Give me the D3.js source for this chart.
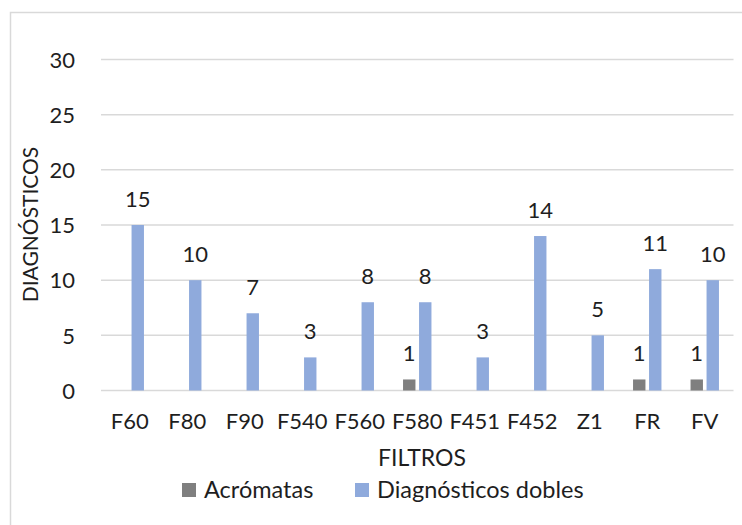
<!DOCTYPE html>
<html>
<head>
<meta charset="utf-8">
<script src="https://cdn.jsdelivr.net/npm/d3@7"></script>
<style>
  html, body { margin: 0; padding: 0; background: #fff; }
  svg { display: block; }
  text { font-family: Lato, "Open Sans", "Noto Sans", sans-serif; fill: #1e1e1e; }
</style>
</head>
<body>
<svg id="chart" width="742" height="525"></svg>
<script>
// Filter categories and the two counted series
const categories = ["F60", "F80", "F90", "F540", "F560", "F580", "F451", "F452", "Z1", "FR", "FV"];
const seriesNames = ["Acrómatas", "Diagnósticos dobles"];
const acromatas = [0, 0, 0, 0, 0, 1, 0, 0, 0, 1, 1];
const diagnosticosDobles = [15, 10, 7, 3, 8, 8, 3, 14, 5, 11, 10];
const yTicks = [0, 5, 10, 15, 20, 25, 30];
const colors = ["#7f7f7f", "#8faadc"];

const svg = d3.select("#chart");
const tickFont = 22;
const legendFont = 23.5;

// Outer chart frame
svg.append("rect")
  .attr("x", 10.5).attr("y", 12.5)
  .attr("width", 760).attr("height", 540)
  .attr("fill", "none")
  .attr("stroke", "#d9d9d9")
  .attr("stroke-width", 1.5);

const plot = { left: 101, right: 733.5, top: 59.5, bottom: 390.5 };

const x = d3.scaleBand()
  .domain(categories)
  .range([plot.left, plot.right])
  .padding(0);

const clusterWidth = x.bandwidth() * 0.494;
const xSeries = d3.scaleBand()
  .domain(seriesNames)
  .range([(x.bandwidth() - clusterWidth) / 2, (x.bandwidth() + clusterWidth) / 2])
  .paddingInner(0.225)
  .paddingOuter(0);

const y = d3.scaleLinear()
  .domain([0, 30])
  .range([plot.bottom, plot.top]);

// Horizontal gridlines
svg.append("g")
  .selectAll("line")
  .data(yTicks)
  .join("line")
  .attr("x1", plot.left).attr("x2", plot.right)
  .attr("y1", d => y(d)).attr("y2", d => y(d))
  .attr("stroke", "#d9d9d9")
  .attr("stroke-width", 1.5);

// Y axis tick labels
const yAxis = d3.axisLeft(y).tickValues(yTicks).tickSize(0).tickPadding(0);
const yg = svg.append("g")
  .attr("transform", `translate(75,0)`)
  .call(yAxis);
yg.select(".domain").remove();
yg.selectAll("text")
  .attr("font-size", tickFont)
  .attr("font-family", null)
  .attr("dy", "0.35em")
  .attr("fill", "#1e1e1e");

// X axis category labels
const xAxis = d3.axisBottom(x).tickSize(0).tickPadding(0);
const xg = svg.append("g")
  .attr("transform", `translate(0,${plot.bottom})`)
  .call(xAxis);
xg.select(".domain").remove();
xg.selectAll("text")
  .attr("font-size", tickFont)
  .attr("font-family", null)
  .attr("dy", null)
  .attr("y", 38.5)
  .attr("fill", "#1e1e1e");

// Bars
const rows = categories.map((c, i) => ({
  category: c,
  values: [
    { series: seriesNames[0], value: acromatas[i], color: colors[0] },
    { series: seriesNames[1], value: diagnosticosDobles[i], color: colors[1] }
  ]
}));

const groups = svg.append("g")
  .selectAll("g")
  .data(rows)
  .join("g")
  .attr("transform", d => `translate(${x(d.category)},0)`);

groups.selectAll("rect")
  .data(d => d.values.filter(v => v.value > 0))
  .join("rect")
  .attr("x", d => xSeries(d.series))
  .attr("width", xSeries.bandwidth())
  .attr("y", d => y(d.value))
  .attr("height", d => y(0) - y(d.value))
  .attr("fill", d => d.color);

// Value labels above bars
groups.selectAll("text")
  .data(d => d.values.filter(v => v.value > 0))
  .join("text")
  .attr("x", d => xSeries(d.series) + xSeries.bandwidth() / 2)
  .attr("y", d => y(d.value) - 18.5)
  .attr("text-anchor", "middle")
  .attr("font-size", tickFont)
  .text(d => d.value);

// Axis titles
svg.append("text")
  .attr("x", 422)
  .attr("y", 466)
  .attr("text-anchor", "middle")
  .attr("font-size", 23)
  .text("FILTROS");

svg.append("text")
  .attr("transform", "translate(37.5,224.5) rotate(-90)")
  .attr("text-anchor", "middle")
  .attr("font-size", 21)
  .text("DIAGNÓSTICOS");

// Legend
const legendItems = [
  { name: seriesNames[0], color: colors[0], x: 182 },
  { name: seriesNames[1], color: colors[1], x: 355 }
];
const legend = svg.append("g")
  .selectAll("g")
  .data(legendItems)
  .join("g")
  .attr("transform", d => `translate(${d.x},483)`);
legend.append("rect")
  .attr("width", 14).attr("height", 14)
  .attr("fill", d => d.color);
legend.append("text")
  .attr("x", 22)
  .attr("y", 15)
  .attr("font-size", legendFont)
  .text(d => d.name);
</script>
</body>
</html>
